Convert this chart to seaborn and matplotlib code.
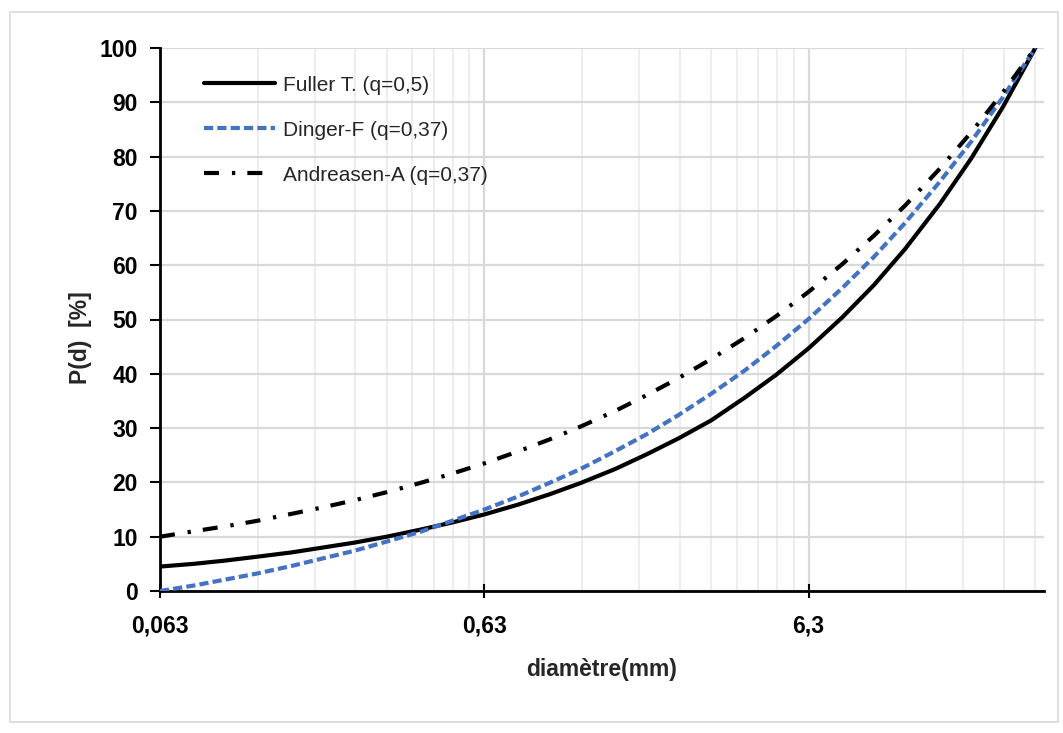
import matplotlib
matplotlib.use("Agg")
import matplotlib.pyplot as plt
from matplotlib.patches import Rectangle
from matplotlib.ticker import FixedLocator, NullFormatter
import seaborn as sns
import pandas as pd

# diametres (mm) and values
diam = [0.063, 0.08, 0.1, 0.125, 0.16, 0.2, 0.25, 0.315, 0.4, 0.5, 0.63, 0.8, 1,
        1.25, 1.6, 2, 2.5, 3.15, 4, 5, 6.3, 8, 10, 12.5, 16, 20, 25, 31.5]
fuller = [4.5, 5.0, 5.6, 6.3, 7.1, 8.0, 8.9, 10.0, 11.3, 12.6, 14.1, 15.9, 17.8,
          19.9, 22.5, 25.2, 28.1, 31.4, 35.6, 39.8, 44.7, 50.4, 56.3, 63.0, 71.3, 79.7, 89.1, 100]
dinger = [0.0, 1.0, 2.1, 3.2, 4.6, 6.0, 7.4, 9.1, 10.9, 12.9, 15.0, 17.4, 19.9,
          22.5, 25.8, 28.9, 32.4, 36.3, 40.6, 45.1, 50.1, 55.8, 61.5, 67.8, 75.4, 82.8, 90.9, 100]
andreasen = [10.0, 11.0, 11.9, 12.9, 14.2, 15.4, 16.7, 18.2, 19.9, 21.6, 23.5, 25.7, 27.9,
             30.3, 33.2, 36.1, 39.2, 42.7, 46.6, 50.6, 55.1, 60.2, 65.4, 71.0, 77.8, 84.5, 91.8, 100]

names = ["Fuller T. (q=0,5)", "Dinger-F (q=0,37)", "Andreasen-A (q=0,37)"]
xticks = [0.063, 0.63, 6.3]
xticklabels = ["0,063", "0,63", "6,3"]

df = pd.concat([
    pd.DataFrame({"d": diam, "P": fuller, "serie": names[0]}),
    pd.DataFrame({"d": diam, "P": dinger, "serie": names[1]}),
    pd.DataFrame({"d": diam, "P": andreasen, "serie": names[2]}),
])

sns.set_style("white")
plt.rcParams["font.family"] = ["Liberation Sans", "DejaVu Sans"]

fig = plt.figure(figsize=(10.63, 7.33), dpi=100)
ax = fig.add_axes([160 / 1063, 1 - 591 / 733, (1044 - 160) / 1063, (591 - 48) / 733])

palette = {names[0]: "black", names[1]: "#4472C4", names[2]: "black"}
dashes = {names[0]: "", names[1]: (2.2, 1.0), names[2]: (3.6, 3.1, 0.8, 2.9)}
sns.lineplot(data=df, x="d", y="P", hue="serie", style="serie", palette=palette,
             dashes=dashes, linewidth=3, ax=ax, legend=True, zorder=3)
for ln in ax.lines:
    ln.set_dash_capstyle("butt")
    ln.set_solid_joinstyle("round")

ax.set_xscale("log")
ax.set_xlim(0.063, 33.5)
ax.set_ylim(0, 100)
ax.set_yticks(range(0, 101, 10))
ax.xaxis.set_major_locator(FixedLocator(xticks))
ax.set_xticklabels(xticklabels)
minors = [k * 0.063 * 10 ** n for n in range(3) for k in range(2, 10)]
ax.xaxis.set_minor_locator(FixedLocator(minors))
ax.xaxis.set_minor_formatter(NullFormatter())

ax.grid(True, which="major", color="#d9d9d9", linewidth=1.6, zorder=0)
ax.grid(True, which="minor", axis="x", color="#ececec", linewidth=1.3, zorder=0)
ax.set_axisbelow(True)

for s in ["top", "right"]:
    ax.spines[s].set_visible(False)
for s in ["left", "bottom"]:
    ax.spines[s].set_color("black")
    ax.spines[s].set_linewidth(2)

ax.tick_params(axis="y", which="major", direction="out", length=7, width=1.5,
               colors="black", labelsize=16.5, pad=9, left=True)
ax.tick_params(axis="x", which="major", direction="inout", length=10, width=1.5,
               colors="black", labelsize=16.5, pad=12, bottom=True)
ax.tick_params(axis="x", which="minor", length=0)
for lab in ax.get_xticklabels() + ax.get_yticklabels():
    lab.set_fontweight("bold")

ax.set_xlabel("diamètre(mm)", fontsize=16.5, fontweight="bold", labelpad=15)
ax.set_ylabel("P(d)  [%]", fontsize=16.5, fontweight="bold")
ax.yaxis.set_label_coords(-0.077, 0.466)

leg = ax.legend(loc="upper left", bbox_to_anchor=(0.05, 0.949), frameon=False,
                fontsize=15, handlelength=3.4, handletextpad=0.4,
                labelspacing=1.25, borderpad=0, borderaxespad=0)
for h in leg.get_lines():
    h.set_linewidth(3)

fig.patches.append(Rectangle((10 / 1063, 1 - 722 / 733), 1048 / 1063, 710 / 733,
                             transform=fig.transFigure, fill=False,
                             edgecolor="#d9d9d9", linewidth=1.2))

fig.savefig("out.png", dpi=100)
